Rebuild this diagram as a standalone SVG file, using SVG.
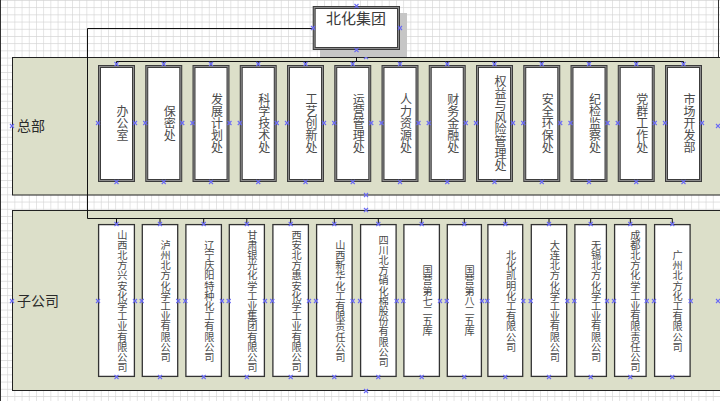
<svg xmlns="http://www.w3.org/2000/svg" xmlns:xlink="http://www.w3.org/1999/xlink" width="720" height="401" viewBox="0 0 720 401">
<style>
.panel{fill:#dcdfc9;stroke:#222;stroke-width:1}
.hq{fill:#fff;stroke:#3c3c3c;stroke-width:3}
.hq2{fill:none;stroke:#8c8c8c;stroke-width:1}
.sub{fill:#fff;stroke:#333;stroke-width:1.3}
.v{writing-mode:vertical-rl;text-anchor:middle;font-family:"Noto Sans CJK SC","Noto Sans CJK TC",sans-serif;fill:#4a4a4a}
.v1{font-size:12px}
.v2{font-size:10.2px}
.lbl{font-family:"Noto Sans CJK SC",sans-serif;font-size:14px;fill:#2a2a2a}
.title{font-family:"Noto Sans CJK SC",sans-serif;font-size:15px;fill:#3a3a3a;text-anchor:middle}
.con{fill:none;stroke:#111;stroke-width:1}
.mk{fill:none;stroke:#6a6af5;stroke-width:1.1}
</style>
<defs>
<pattern id="grid" width="7.2" height="7.2" patternUnits="userSpaceOnUse">
<path d="M0,0H7.2M0,0V7.2" fill="none" stroke="#d4d4d4" stroke-width="1.2"/>
</pattern>
<path id="m" class="mk" d="M-2,-2L2,2M-2,2L2,-2"/>
</defs>
<rect width="720" height="401" fill="#fff"/>
<rect width="720" height="401" fill="url(#grid)"/>
<path d="M0.5,0V401M718.5,0V57" stroke="#333" stroke-width="1"/>

<g id="panel-hq">
<rect class="panel" x="12.5" y="57.5" width="720" height="137.5"/>
<text class="lbl" x="17" y="131">总部</text>
<use href="#m" x="12" y="126"/><use href="#m" x="366" y="57"/><use href="#m" x="366" y="195"/><use href="#m" x="718" y="126"/>
</g>
<g id="panel-sub">
<rect class="panel" x="12.5" y="210.5" width="720" height="180"/>
<text class="lbl" x="17" y="306">子公司</text>
<use href="#m" x="12" y="301"/><use href="#m" x="366" y="210"/><use href="#m" x="366" y="391"/><use href="#m" x="718" y="301"/>
</g>

<g id="connectors">
<path class="con" d="M313,28.5H87.5V218.5H672.3V224"/>
<path class="con" d="M116.5,218.5V224M160,218.5V224M203.7,218.5V224M246.8,218.5V224M290.7,218.5V224M334.3,218.5V224M378.3,218.5V224M421.7,218.5V224M464.3,218.5V224M505.3,218.5V224M549,218.5V224M590.7,218.5V224M630.3,218.5V224"/>
<path class="con" d="M356.5,50V61.5M116.5,61.5H683.5"/>
<path class="con" d="M116.5,61.5V65M163.75,61.5V65M211,61.5V65M258.25,61.5V65M305.5,61.5V65M352.75,61.5V65M400,61.5V65M447.25,61.5V65M494.5,61.5V65M541.75,61.5V65M589,61.5V65M636.25,61.5V65M683.5,61.5V65"/>
</g>

<g id="root">
<rect x="320" y="13" width="87" height="44" fill="#c6c6c6"/>
<rect class="hq" x="314.2" y="7.5" width="84.3" height="41"/>
<rect class="hq2" x="314.2" y="7.5" width="84.3" height="41"/>
<text class="title" x="356" y="24">北化集团</text>
<use href="#m" x="356.5" y="6"/><use href="#m" x="313" y="28"/><use href="#m" x="400" y="28"/><use href="#m" x="356.5" y="50"/>
</g>

<g id="hq1"><rect class="hq" x="99.5" y="66.5" width="34" height="114"/><rect class="hq2" x="99.5" y="66.5" width="34" height="114"/><text class="v v1" x="122.5" y="123">办公室</text><use href="#m" x="116.5" y="64"/><use href="#m" x="116.5" y="182"/><use href="#m" x="98" y="123"/><use href="#m" x="135" y="123"/></g>
<g id="hq2"><rect class="hq" x="146.75" y="66.5" width="34" height="114"/><rect class="hq2" x="146.75" y="66.5" width="34" height="114"/><text class="v v1" x="169.75" y="123">保密处</text><use href="#m" x="163.75" y="64"/><use href="#m" x="163.75" y="182"/><use href="#m" x="145.25" y="123"/><use href="#m" x="182.25" y="123"/></g>
<g id="hq3"><rect class="hq" x="194" y="66.5" width="34" height="114"/><rect class="hq2" x="194" y="66.5" width="34" height="114"/><text class="v v1" x="217" y="123">发展计划处</text><use href="#m" x="211" y="64"/><use href="#m" x="211" y="182"/><use href="#m" x="192.5" y="123"/><use href="#m" x="229.5" y="123"/></g>
<g id="hq4"><rect class="hq" x="241.25" y="66.5" width="34" height="114"/><rect class="hq2" x="241.25" y="66.5" width="34" height="114"/><text class="v v1" x="264.25" y="123">科学技术处</text><use href="#m" x="258.25" y="64"/><use href="#m" x="258.25" y="182"/><use href="#m" x="239.75" y="123"/><use href="#m" x="276.75" y="123"/></g>
<g id="hq5"><rect class="hq" x="288.5" y="66.5" width="34" height="114"/><rect class="hq2" x="288.5" y="66.5" width="34" height="114"/><text class="v v1" x="311.5" y="123">工艺创新处</text><use href="#m" x="305.5" y="64"/><use href="#m" x="305.5" y="182"/><use href="#m" x="287" y="123"/><use href="#m" x="324" y="123"/></g>
<g id="hq6"><rect class="hq" x="335.75" y="66.5" width="34" height="114"/><rect class="hq2" x="335.75" y="66.5" width="34" height="114"/><text class="v v1" x="358.75" y="123">运营管理处</text><use href="#m" x="352.75" y="64"/><use href="#m" x="352.75" y="182"/><use href="#m" x="334.25" y="123"/><use href="#m" x="371.25" y="123"/></g>
<g id="hq7"><rect class="hq" x="383" y="66.5" width="34" height="114"/><rect class="hq2" x="383" y="66.5" width="34" height="114"/><text class="v v1" x="406" y="123">人力资源处</text><use href="#m" x="400" y="64"/><use href="#m" x="400" y="182"/><use href="#m" x="381.5" y="123"/><use href="#m" x="418.5" y="123"/></g>
<g id="hq8"><rect class="hq" x="430.25" y="66.5" width="34" height="114"/><rect class="hq2" x="430.25" y="66.5" width="34" height="114"/><text class="v v1" x="453.25" y="123">财务金融处</text><use href="#m" x="447.25" y="64"/><use href="#m" x="447.25" y="182"/><use href="#m" x="428.75" y="123"/><use href="#m" x="465.75" y="123"/></g>
<g id="hq9"><rect class="hq" x="477.5" y="66.5" width="34" height="114"/><rect class="hq2" x="477.5" y="66.5" width="34" height="114"/><text class="v v1" x="500.5" y="123">权益与风险管理处</text><use href="#m" x="494.5" y="64"/><use href="#m" x="494.5" y="182"/><use href="#m" x="476" y="123"/><use href="#m" x="513" y="123"/></g>
<g id="hq10"><rect class="hq" x="524.75" y="66.5" width="34" height="114"/><rect class="hq2" x="524.75" y="66.5" width="34" height="114"/><text class="v v1" x="547.75" y="123">安全环保处</text><use href="#m" x="541.75" y="64"/><use href="#m" x="541.75" y="182"/><use href="#m" x="523.25" y="123"/><use href="#m" x="560.25" y="123"/></g>
<g id="hq11"><rect class="hq" x="572" y="66.5" width="34" height="114"/><rect class="hq2" x="572" y="66.5" width="34" height="114"/><text class="v v1" x="595" y="123">纪检监察处</text><use href="#m" x="589" y="64"/><use href="#m" x="589" y="182"/><use href="#m" x="570.5" y="123"/><use href="#m" x="607.5" y="123"/></g>
<g id="hq12"><rect class="hq" x="619.25" y="66.5" width="34" height="114"/><rect class="hq2" x="619.25" y="66.5" width="34" height="114"/><text class="v v1" x="642.25" y="123">党群工作处</text><use href="#m" x="636.25" y="64"/><use href="#m" x="636.25" y="182"/><use href="#m" x="617.75" y="123"/><use href="#m" x="654.75" y="123"/></g>
<g id="hq13"><rect class="hq" x="666.5" y="66.5" width="34" height="114"/><rect class="hq2" x="666.5" y="66.5" width="34" height="114"/><text class="v v1" x="689.5" y="123">市场开发部</text><use href="#m" x="683.5" y="64"/><use href="#m" x="683.5" y="182"/><use href="#m" x="665" y="123"/><use href="#m" x="702" y="123"/></g>

<g id="sub1"><rect class="sub" x="98.6" y="224.6" width="35.8" height="151.8"/><text class="v v2" x="122.3" y="301">山西北方兴安化学工业有限公司</text><use href="#m" x="116.5" y="224"/><use href="#m" x="116.5" y="377"/><use href="#m" x="98" y="301"/><use href="#m" x="135" y="301"/></g>
<g id="sub2"><rect class="sub" x="142.3" y="224.6" width="35.4" height="151.8"/><text class="v v2" x="165.7" y="301">泸州北方化学工业有限公司</text><use href="#m" x="160" y="224"/><use href="#m" x="160" y="377"/><use href="#m" x="141.7" y="301"/><use href="#m" x="178.3" y="301"/></g>
<g id="sub3"><rect class="sub" x="185.9" y="224.6" width="35.5" height="151.8"/><text class="v v2" x="209.3" y="301">辽宁庆阳特种化工有限公司</text><use href="#m" x="203.7" y="224"/><use href="#m" x="203.7" y="377"/><use href="#m" x="185.3" y="301"/><use href="#m" x="222" y="301"/></g>
<g id="sub4"><rect class="sub" x="229.3" y="224.6" width="35.1" height="151.8"/><text class="v v2" x="252.3" y="301">甘肃银光化学工业集团有限公司</text><use href="#m" x="246.8" y="224"/><use href="#m" x="246.8" y="377"/><use href="#m" x="228.7" y="301"/><use href="#m" x="265" y="301"/></g>
<g id="sub5"><rect class="sub" x="272.9" y="224.6" width="35.5" height="151.8"/><text class="v v2" x="296.5" y="301">西安北方惠安化学工业有限公司</text><use href="#m" x="290.7" y="224"/><use href="#m" x="290.7" y="377"/><use href="#m" x="272.3" y="301"/><use href="#m" x="309" y="301"/></g>
<g id="sub6"><rect class="sub" x="316.6" y="224.6" width="35.5" height="151.8"/><text class="v v2" x="340.3" y="301">山西新华化工有限责任公司</text><use href="#m" x="334.3" y="224"/><use href="#m" x="334.3" y="377"/><use href="#m" x="316" y="301"/><use href="#m" x="352.7" y="301"/></g>
<g id="sub7"><rect class="sub" x="360.6" y="224.6" width="35.5" height="151.8"/><text class="v v2" x="383.5" y="301">四川北方硝化棉股份有限公司</text><use href="#m" x="378.3" y="224"/><use href="#m" x="378.3" y="377"/><use href="#m" x="360" y="301"/><use href="#m" x="396.7" y="301"/></g>
<g id="sub8"><rect class="sub" x="403.9" y="224.6" width="35.5" height="151.8"/><text class="v v2" x="427.5" y="301">国营第七二五库</text><use href="#m" x="421.7" y="224"/><use href="#m" x="421.7" y="377"/><use href="#m" x="403.3" y="301"/><use href="#m" x="440" y="301"/></g>
<g id="sub9"><rect class="sub" x="447.3" y="224.6" width="34.1" height="151.8"/><text class="v v2" x="469.5" y="301">国营第八二五库</text><use href="#m" x="464.3" y="224"/><use href="#m" x="464.3" y="377"/><use href="#m" x="446.7" y="301"/><use href="#m" x="482" y="301"/></g>
<g id="sub10"><rect class="sub" x="487.9" y="224.6" width="34.8" height="151.8"/><text class="v v2" x="511" y="301">北化凯明化工有限公司</text><use href="#m" x="505.3" y="224"/><use href="#m" x="505.3" y="377"/><use href="#m" x="487.3" y="301"/><use href="#m" x="523.3" y="301"/></g>
<g id="sub11"><rect class="sub" x="531.3" y="224.6" width="35.4" height="151.8"/><text class="v v2" x="554.8" y="301">大连北方化学工业有限公司</text><use href="#m" x="549" y="224"/><use href="#m" x="549" y="377"/><use href="#m" x="530.7" y="301"/><use href="#m" x="567.3" y="301"/></g>
<g id="sub12"><rect class="sub" x="574.9" y="224.6" width="31.5" height="151.8"/><text class="v v2" x="596" y="301">无锡北方化学工业有限公司</text><use href="#m" x="590.7" y="224"/><use href="#m" x="590.7" y="377"/><use href="#m" x="574.3" y="301"/><use href="#m" x="607" y="301"/></g>
<g id="sub13"><rect class="sub" x="614.6" y="224.6" width="31.5" height="151.8"/><text class="v v2" x="635.3" y="301">成都北方化学工业有限责任公司</text><use href="#m" x="630.3" y="224"/><use href="#m" x="630.3" y="377"/><use href="#m" x="614" y="301"/><use href="#m" x="646.7" y="301"/></g>
<g id="sub14"><rect class="sub" x="654.6" y="224.6" width="35.5" height="151.8"/><text class="v v2" x="677.7" y="301">广州北方化工有限公司</text><use href="#m" x="672.3" y="224"/><use href="#m" x="672.3" y="377"/><use href="#m" x="654" y="301"/><use href="#m" x="690.7" y="301"/></g>
</svg>
